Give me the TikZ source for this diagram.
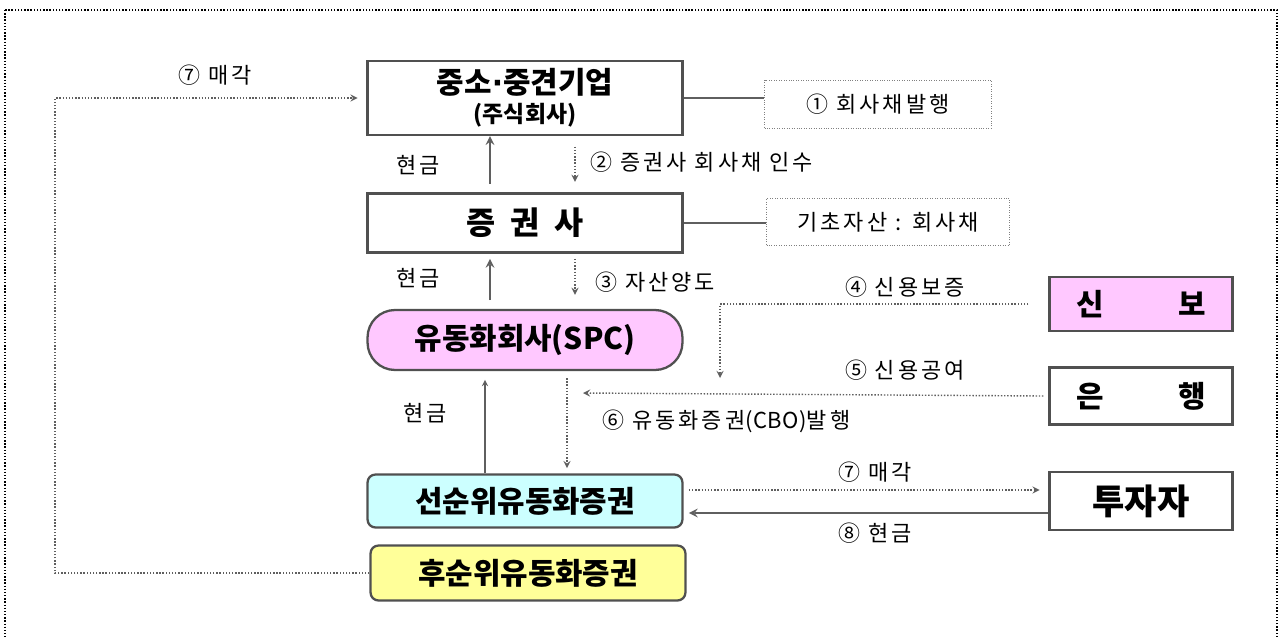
\documentclass[tikz,border=0pt]{standalone}
\usepackage{fontspec}
\setmainfont{Noto Sans CJK KR}
\newfontfamily\dotfont{DejaVu Sans}
\newfontfamily\lblfont[LetterSpace=14]{Noto Sans CJK KR}
\usetikzlibrary{positioning}
\definecolor{spcpink}{RGB}{255,200,255}
\definecolor{srcyan}{RGB}{204,255,255}
\definecolor{jryellow}{RGB}{255,255,153}
\definecolor{arrgray}{RGB}{95,95,95}
\definecolor{boxgray}{RGB}{80,80,80}
\tikzset{
  firm/.style={draw=boxgray, line width=1.3pt, minimum width=6.3cm, inner sep=2pt, align=center, font=\bfseries},
  party/.style={draw=boxgray, line width=1.3pt, minimum width=3.66cm, font=\bfseries\fontsize{17}{19}\selectfont},
  note/.style={draw=gray, densely dotted, thin, font=\lblfont\fontsize{12.5}{14}\selectfont},
  lbl/.style={font=\lblfont\fontsize{12.5}{14}\selectfont, inner sep=1pt},
  cash/.style={draw=arrgray, line width=1.2pt, ->, >=stealth},
  flow/.style={draw=arrgray, densely dotted, line width=0.8pt, ->, >=stealth},
}
\begin{document}
\begin{tikzpicture}[x=0.02cm, y=-0.02cm]
\useasboundingbox (0,0) rectangle (1281,636);
\draw[black, densely dotted, line width=0.8pt] (5,10) rectangle (1277,660);

\node[firm, minimum height=1.48cm] (sme) at (525,98) {\fontsize{17}{20}\selectfont 중소{\dotfont\bfseries ·}중견기업\\[3pt]\fontsize{13}{15}\selectfont (주식회사)};
\node[firm, minimum height=1.18cm] (sec) at (525,223) {\fontsize{18}{20}\selectfont 증\ \ 권\ \ 사};
\node[firm, minimum height=1.2cm, fill=spcpink, rounded corners=0.55cm] (spc) at (525,340) {\fontsize{17}{19}\selectfont 유동화회사(SPC)};
\node[firm, minimum height=1.06cm, fill=srcyan, rounded corners=0.16cm] (senior) at (525,501) {\fontsize{17}{19}\selectfont 선순위유동화증권};
\node[firm, minimum height=1.1cm, fill=jryellow, rounded corners=0.16cm] (junior) at (528,573) {\fontsize{17}{19}\selectfont 후순위유동화증권};

\node[party, minimum height=1.08cm, fill=spcpink] (kodit) at (1141,304) {신\hspace{1.5cm}보};
\node[party, minimum height=1.14cm] (bank) at (1141,396) {은\hspace{1.5cm}행};
\node[party, minimum height=1.16cm] (inv) at (1141,501) {\fontsize{20}{22}\selectfont 투자자};

\node[note, minimum width=4.54cm, minimum height=0.96cm] (note1) at (878,104) {① 회사채발행};
\node[note, minimum width=4.86cm, minimum height=0.94cm] (note2) at (888,222) {기초자산 : 회사채};

\node[lbl] (cash1) at (418,165) {현금};
\node[lbl, anchor=west] (take) at (588,162) {② 증권사 회사채 인수};
\node[lbl] (cash2) at (418,278) {현금};
\node[lbl, anchor=west] (trans) at (593,282) {③ 자산양도};
\node[lbl] (guar) at (905,287) {④ 신용보증};
\node[lbl] (credit) at (905,370) {⑤ 신용공여};
\node[lbl, anchor=west] (issue) at (600,421) {⑥ 유동화증권{\addfontfeature{LetterSpace=2}(CBO)}발행};
\node[lbl] (cash3) at (425,413) {현금};
\node[lbl] (sell1) at (875,472) {⑦ 매각};
\node[lbl] (cash4) at (875,533) {⑧ 현금};
\node[lbl] (sell2) at (215,75) {⑦ 매각};

\coordinate (gtee) at (720,378);
\coordinate (loan) at (583,393);
\coordinate (corner) at (55,573);

\draw[arrgray, line width=1pt] (sme.east) -- (sme.east -| note1.west);
\draw[arrgray, line width=1pt] (sec.east) -- (sec.east -| note2.west);

\path[cash] ([xshift=-0.7cm, yshift=5pt]sec.north) -- ([xshift=-0.7cm]sme.south);
\path[flow] ([xshift=1cm, yshift=-6pt]sme.south) -- ([xshift=1cm, yshift=6pt]sec.north);
\path[cash] ([xshift=-0.7cm, yshift=5pt]spc.north) -- ([xshift=-0.7cm, yshift=-3pt]sec.south);
\path[flow] ([xshift=1cm, yshift=-3pt]sec.south) -- ([xshift=1cm, yshift=8pt]spc.north);
\path[flow] ([xshift=-0.4cm]kodit.west) -| (gtee);
\path[flow] ([xshift=-0.1cm]bank.west) -- (loan);
\path[flow] ([xshift=0.84cm, yshift=-4pt]spc.south) -- ([xshift=0.84cm, yshift=3pt]senior.north);
\path[draw=arrgray, line width=0.6pt, ->, >=stealth] ([xshift=-0.8cm]senior.north) -- ([xshift=-0.8cm, yshift=-5pt]spc.south);
\path[flow] ([xshift=3pt, yshift=0.22cm]senior.east) -- ([xshift=-5pt, yshift=0.22cm]inv.west);
\path[cash] ([yshift=-0.24cm]inv.west) -- ([xshift=3pt, yshift=-0.24cm]senior.east);
\path[flow] (junior.west) -- (corner) |- ([xshift=-5pt]sme.west);
\end{tikzpicture}
\end{document}
